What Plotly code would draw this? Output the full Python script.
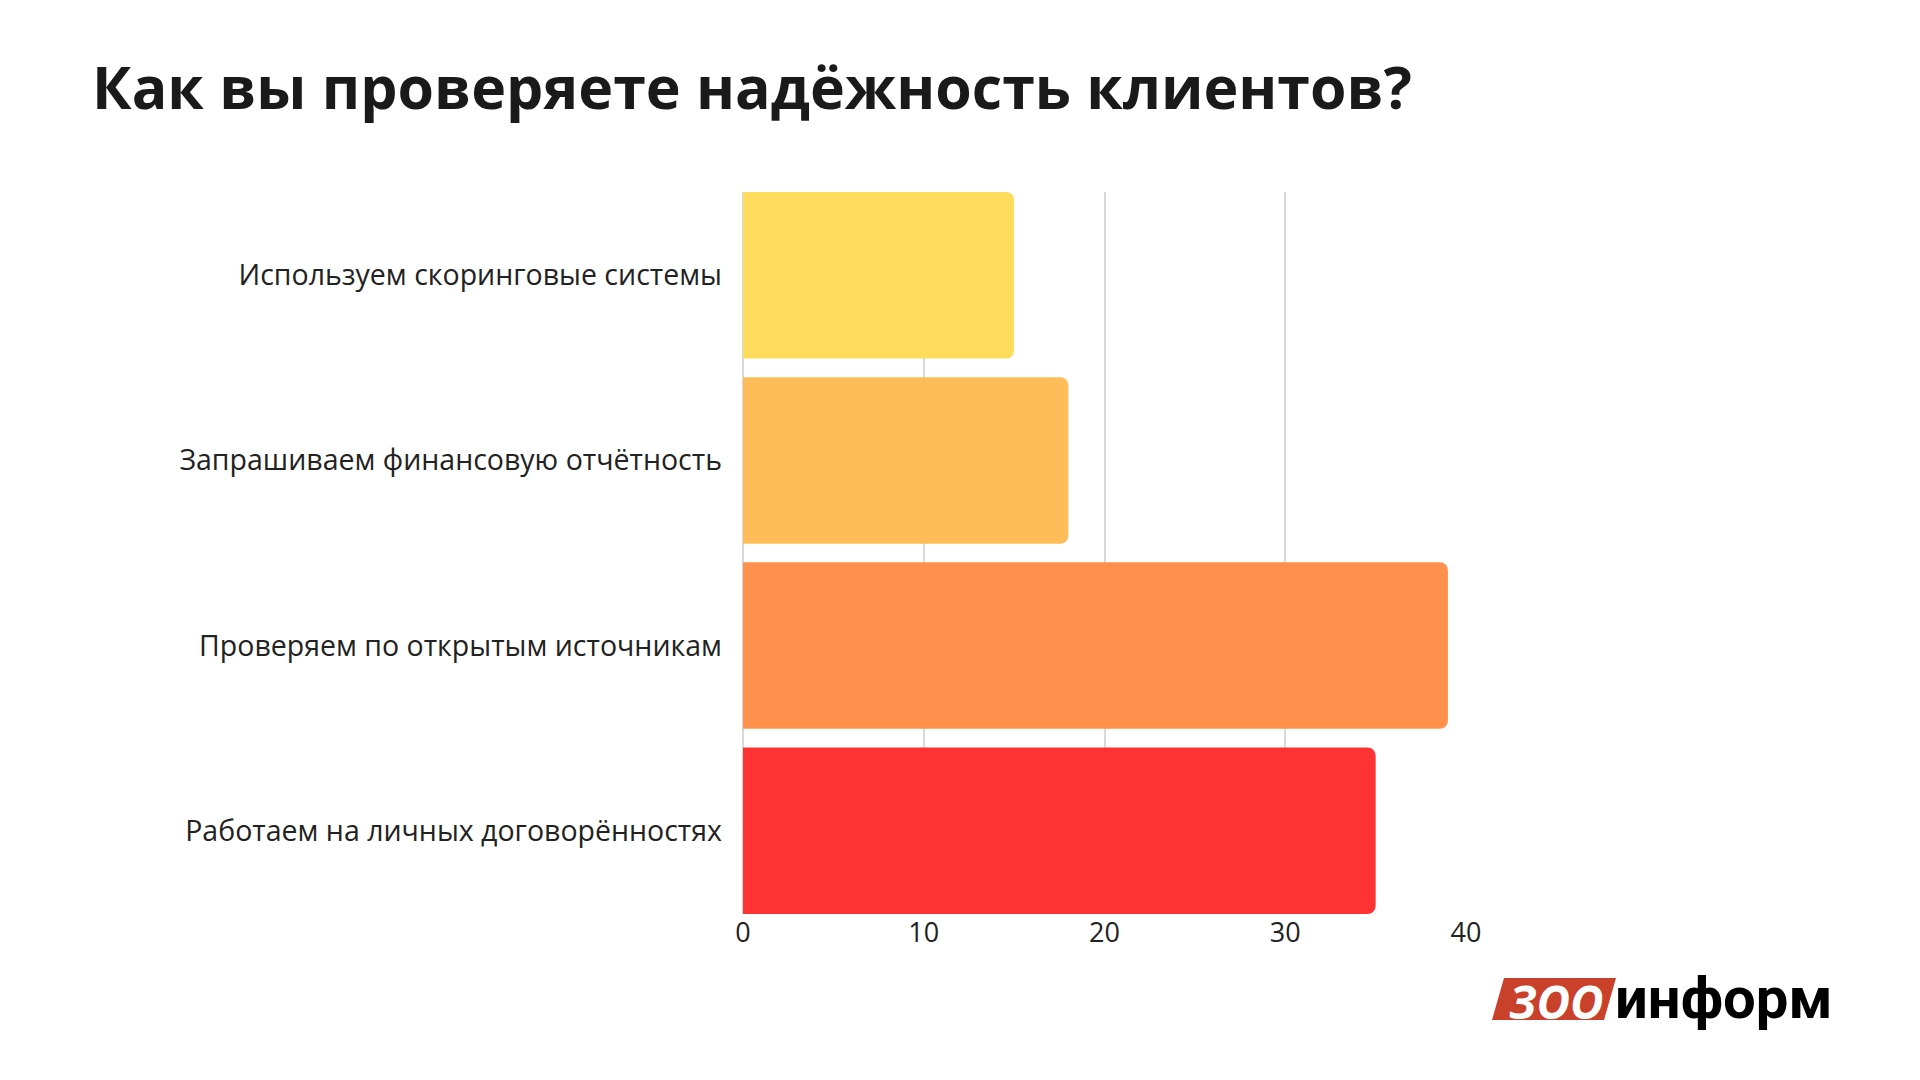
import plotly.graph_objects as go

categories = ["Используем скоринговые системы", "Запрашиваем финансовую отчётность",
              "Проверяем по открытым источникам", "Работаем на личных договорённостях"]
values = [15, 18, 39, 35]
colors = ["#FFDB5C", "#FFBD59", "#FF914D", "#FF3333"]
tick_vals = [0, 10, 20, 30, 40]

W, H = 1920, 1080
L, R, T, B = 735, 462, 184, 174
pw, ph = W - L - R, H - T - B


def px(x):
    return (x - L) / pw


def py(y):
    return (H - B - y) / ph


fig = go.Figure(go.Bar(
    y=categories, x=values, orientation="h",
    marker=dict(color=colors, line=dict(width=0)),
    hoverinfo="x+y",
))

fig.update_layout(
    width=W, height=H,
    paper_bgcolor="white", plot_bgcolor="white",
    margin=dict(l=L, r=R, t=T, b=B),
    bargap=0.1, barcornerradius=8,
    font=dict(family="Open Sans, Noto Sans, sans-serif", color="#222222", size=28),
    title=dict(text="<b>Как вы проверяете надёжность клиентов?</b>",
               x=84 / W, xanchor="left", y=1 - 80 / H, yanchor="middle",
               font=dict(size=59, color="#1a1a1a")),
    showlegend=False,
)
fig.update_xaxes(range=[0, 40], tickvals=tick_vals, showgrid=True, gridcolor="#d9d9d9",
                 gridwidth=2, zeroline=True, zerolinecolor="#d9d9d9", ticks="",
                 tickfont=dict(size=27, color="#222222"))
fig.update_yaxes(range=[3.45, -0.45], ticks="", ticklabelstandoff=20,
                 tickfont=dict(size=28.5, color="#222222"))

# logo
fig.add_shape(type="path", xref="paper", yref="paper", layer="below",
              path=f"M {px(1484)} {py(1012)} L {px(1596)} {py(1012)} "
                   f"L {px(1608)} {py(970)} L {px(1496)} {py(970)} Z",
              fillcolor="#C9412B", line=dict(width=0))
fig.add_annotation(xref="paper", yref="paper", x=px(1548), y=py(993),
                   xanchor="center", yanchor="middle",
                   text="<b><i>ЗОО</i></b>", showarrow=False,
                   font=dict(size=46, color="white", family="Open Sans"))
fig.add_annotation(xref="paper", yref="paper", x=px(1716), y=py(990),
                   xanchor="center", yanchor="middle",
                   text="<b>информ</b>", showarrow=False,
                   font=dict(size=58, color="black", family="Roboto"))

fig.write_html("out.html")
